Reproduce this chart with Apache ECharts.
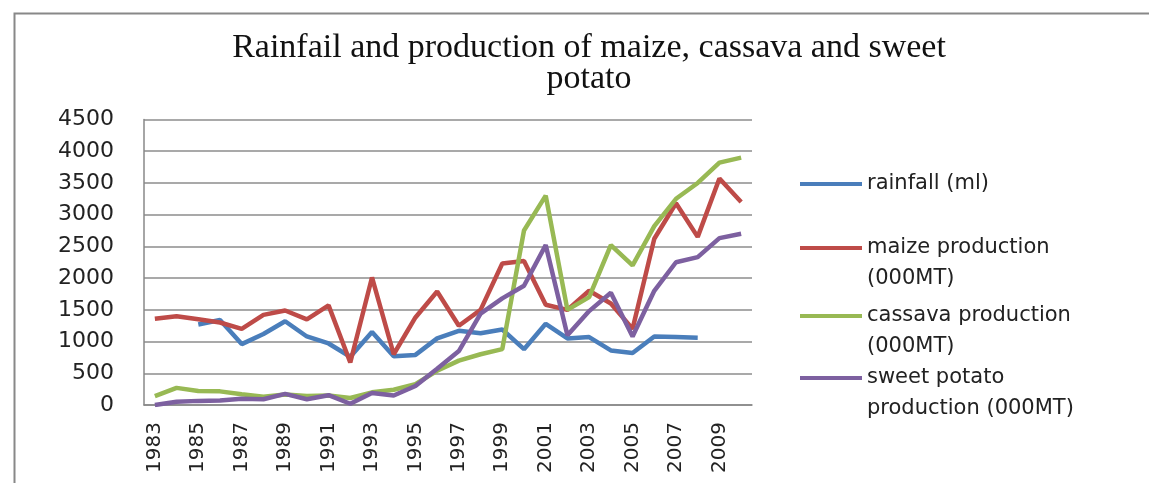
<!DOCTYPE html>
<html>
<head>
<meta charset="utf-8">
<script src="https://cdn.jsdelivr.net/npm/echarts@6/dist/echarts.min.js"></script>
<style>html,body{margin:0;padding:0;background:#fff;}#c{width:1149px;height:483px;}</style>
</head>
<body>
<div id="c"></div>
<script>
var years = [1983,1984,1985,1986,1987,1988,1989,1990,1991,1992,1993,1994,1995,1996,1997,1998,1999,2000,2001,2002,2003,2004,2005,2006,2007,2008,2009,2010];
var rainfall = [null,null,1270,1340,960,1120,1320,1080,970,760,1150,770,790,1050,1170,1130,1190,880,1280,1050,1070,860,820,1080,1070,1060,null,null];
var maize = [1360,1400,1350,1300,1200,1420,1490,1350,1570,670,2010,800,1380,1790,1250,1500,2230,2270,1580,1500,1800,1600,1200,2620,3180,2650,3570,3200];
var cassava = [140,270,220,215,170,130,165,140,150,110,200,240,330,540,700,800,880,2750,3300,1500,1700,2520,2200,2820,3250,3500,3820,3900];
var sweetPotato = [0,50,65,70,100,90,175,90,155,20,190,150,300,570,850,1440,1680,1880,2520,1100,1480,1770,1080,1800,2250,2330,2630,2700];
var seriesNames = ['rainfall (ml)','maize production (000MT)','cassava production (000MT)','sweet potato production (000MT)'];
var legendLabels = ['rainfall (ml)','maize production\n(000MT)','cassava production\n(000MT)','sweet potato\nproduction (000MT)'];
var colors = ['#4A7EBB','#BE4B48','#98B954','#7D60A0'];
var chart = echarts.init(document.getElementById('c'));
var legendTops = [183,247,315,377];
var lh = 31;
var legends = seriesNames.map(function(n,i){
  var two = legendLabels[i].indexOf('\n')>=0;
  return {
    data:[n], left:800, padding:0, top: (two ? legendTops[i]-1.5*lh : legendTops[i]-lh/2) + 1,
    itemWidth:62, itemHeight:4, itemGap:0, icon:'rect',
    formatter:function(){return two ? '\u00a0\n'+legendLabels[i] : legendLabels[i];},
    selectedMode:false,
    textStyle:{fontFamily:'DejaVu Sans',fontSize:21,color:'#222',lineHeight:lh}
  };
});
function mk(name,data,color){
  return {name:name,type:'line',data:data,symbol:'none',connectNulls:false,
    lineStyle:{width:4.5,color:color},itemStyle:{color:color}};
}
chart.setOption({
  animation:false,
  backgroundColor:'#fff',
  title:{text:'Rainfail and production of maize, cassava and sweet\npotato',left:584,top:28,textAlign:'center',
    textStyle:{fontFamily:'Liberation Serif',fontWeight:'normal',fontSize:34,lineHeight:31,color:'#111'}},
  legend:legends,
  graphic:[{type:'rect',left:12,top:11,shape:{width:1300,height:600},style:{fill:null,stroke:'#888',lineWidth:2}}],
  grid:{left:144,right:397,top:119.5,bottom:78},
  xAxis:{type:'category',data:years,boundaryGap:true,
    axisLine:{lineStyle:{color:'#888',width:1.5}},axisTick:{show:false},
    axisLabel:{interval:1,rotate:90,margin:17,fontFamily:'DejaVu Sans',fontSize:20,color:'#222'}},
  yAxis:{type:'value',min:0,max:4500,interval:500,
    axisLine:{show:true,lineStyle:{color:'#888',width:1.5}},axisTick:{show:false},
    splitLine:{lineStyle:{color:'#8c8c8c',width:1.5}},
    axisLabel:{margin:30,fontFamily:'DejaVu Sans',fontSize:22,color:'#222',formatter:function(v){return String(v);}}},
  series:[mk(seriesNames[0],rainfall,colors[0]),mk(seriesNames[1],maize,colors[1]),mk(seriesNames[2],cassava,colors[2]),mk(seriesNames[3],sweetPotato,colors[3])]
});
</script>
</body>
</html>
